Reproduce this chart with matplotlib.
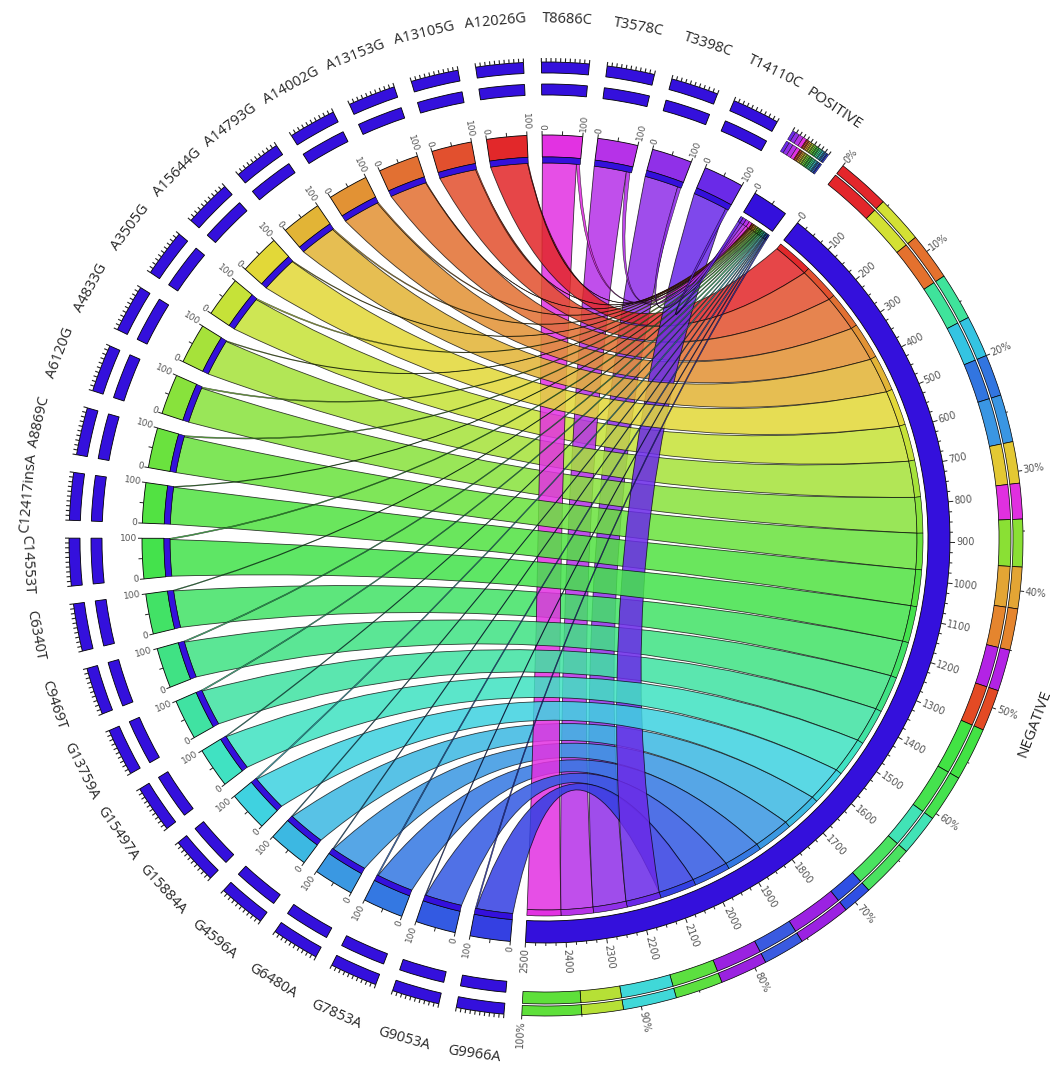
import numpy as np
import matplotlib
matplotlib.use('Agg')
import matplotlib.pyplot as plt
from matplotlib.path import Path
from matplotlib.patches import PathPatch, Wedge
from matplotlib.colors import to_rgba

# ---------------- data ----------------
# mutation segments, clockwise starting right after NEGATIVE
mutations = ['G9966A', 'G9053A', 'G7853A', 'G6480A', 'G4596A', 'G15884A', 'G15497A',
             'G13759A', 'C9469T', 'C6340T', 'C14553T', 'C12417insA', 'A8869C', 'A6120G',
             'A4833G', 'A3505G', 'A15644G', 'A14793G', 'A14002G', 'A13153G', 'A13105G',
             'A12026G', 'T8686C', 'T3578C', 'T3398C', 'T14110C']
mut_colors = ['#3440e2', '#335ae2', '#3478e2', '#3a98e2', '#3cb8e2', '#3fd2e0', '#40e2c2',
              '#40e2a2', '#40e284', '#42e266', '#44e24c', '#52e242', '#6ae23e', '#88e23c',
              '#a6e23a', '#c6e238', '#e2d838', '#e2b436', '#e29234', '#e27032', '#e2502e',
              '#e2282a', '#e232e2', '#b632e8', '#9030e8', '#6a2ae8']
# link size from each mutation to NEGATIVE and to POSITIVE
neg_values = [97, 98, 97, 97, 98, 97, 98, 97, 97, 98, 97, 98, 97, 96, 98, 97, 98, 97,
              97, 98, 97, 98, 90, 86, 90, 92]
pos_values = [3, 2, 3, 2, 2, 3, 2, 3, 3, 2, 3, 2, 3, 3, 2, 3, 2, 3, 3, 2, 3, 2, 8, 10, 9, 7]
mut_size = 100
neg_size = 2500
pos_size = 90
# order in which ribbons are stacked along NEGATIVE (from 0)
neg_order = ['A12026G', 'A13105G', 'A13153G', 'A14002G', 'A14793G', 'A15644G', 'A3505G',
             'A4833G', 'A6120G', 'A8869C', 'C12417insA', 'C14553T', 'C6340T', 'C9469T',
             'G13759A', 'G15497A', 'G15884A', 'G4596A', 'G6480A', 'G7853A', 'G9053A',
             'G9966A', 'T14110C', 'T3398C', 'T3578C', 'T8686C']
# drawing order of ribbons (by genomic position)
draw_order = ['T3398C', 'A3505G', 'T3578C', 'G4596A', 'A4833G', 'A6120G', 'C6340T', 'G6480A',
              'G7853A', 'T8686C', 'A8869C', 'G9053A', 'C9469T', 'G9966A', 'A12026G',
              'C12417insA', 'A13105G', 'A13153G', 'G13759A', 'A14002G', 'T14110C', 'C14553T',
              'A14793G', 'G15497A', 'A15644G', 'G15884A']
# stacked percentage ring of NEGATIVE (colour, share %)
neg_pct_colors = ['#e3262b', '#d3e034', '#e4712e', '#3fe39b', '#34c4e2', '#3275e0', '#3a96e3',
                  '#e3c833', '#e030e0', '#8ae034', '#e3a534', '#e5852e', '#b323e5', '#e34a24',
                  '#42e344', '#45e24e', '#41e3b6', '#4ae260', '#2f4fe3', '#9b22e2', '#3a5ae0',
                  '#9a22e0', '#5ce040', '#40d8d8', '#b6e036', '#5ee03a']
neg_pct_shares = [4.5, 4.0, 4.0, 4.0, 3.5, 3.5, 4.0, 3.5, 3.0, 4.0, 3.5, 3.5, 3.5, 3.5,
                  4.5, 4.0, 3.5, 4.5, 2.5, 4.5, 3.5, 4.0, 4.0, 4.5, 3.5, 5.0]
neg_tick_labels = [str(v) for v in range(0, 2501, 100)]
pct_tick_labels = ['%d%%' % v for v in range(0, 101, 10)]

# ---------------- geometry ----------------
W, H = 1056, 1070
CX, CY = 546, 539
GAP = 2.15
NEG_START = 51.5
MU = 0.38          # pull of the bezier control point toward the chord midpoint
n_mut = len(mutations)
total_units = n_mut * mut_size + neg_size + pos_size
K = (360.0 - (n_mut + 2) * GAP) / total_units

BLUE = '#3410dc'
R_IDEO_OUT, R_IDEO_IN = 404, 382
R_STRIPE_IN = 376
R_CAP_OUT, R_CAP_IN = 377, 371

fig = plt.figure(figsize=(W / 100, H / 100), dpi=100)
ax = fig.add_axes([0, 0, 1, 1])
ax.set_xlim(-CX, W - CX)
ax.set_ylim(-(H - CY), CY)
ax.axis('off')

# segment start angles (clockwise = decreasing math angle)
neg_a0 = NEG_START
neg_a1 = NEG_START - neg_size * K
mut_a0 = {}
a = neg_a1 - GAP
for m in mutations:
    mut_a0[m] = a
    a -= mut_size * K + GAP
pos_a0 = a
pos_a1 = a - pos_size * K
mcol = dict(zip(mutations, mut_colors))
nval = dict(zip(mutations, neg_values))
pval = dict(zip(mutations, pos_values))


def P(r, ang):
    t = np.radians(ang)
    return r * np.cos(t), r * np.sin(t)


def band(r_in, r_out, a_start, a_end, fc, lw=0.6, z=3, ec='black'):
    w = Wedge((0, 0), r_out, min(a_start, a_end), max(a_start, a_end),
              width=r_out - r_in, facecolor=fc, edgecolor=ec, linewidth=lw, zorder=z)
    ax.add_patch(w)


def arc(r, a1, a2):
    n = max(3, int(abs(a2 - a1) * 3) + 3)
    return [P(r, x) for x in np.linspace(a1, a2, n)]


def ctrl(p, q):
    return (MU * (p[0] + q[0]) / 2, MU * (p[1] + q[1]) / 2)


def ribbon(r1, a1, a2, r2, b1, b2, color, z, alpha=0.86, lw=0.6):
    arc1 = arc(r1, a1, a2)
    arc2 = arc(r2, b1, b2)
    verts = (arc1 + [ctrl(arc1[-1], arc2[0]), arc2[0]] + arc2[1:]
             + [ctrl(arc2[-1], arc1[0]), arc1[0], arc1[0]])
    codes = ([Path.MOVETO] + [Path.LINETO] * (len(arc1) - 1) + [Path.CURVE3, Path.CURVE3]
             + [Path.LINETO] * (len(arc2) - 1) + [Path.CURVE3, Path.CURVE3] + [Path.CLOSEPOLY])
    pp = PathPatch(Path(verts, codes), facecolor=to_rgba(color, alpha),
                   edgecolor=(0, 0, 0, 0.75), linewidth=lw, zorder=z)
    ax.add_patch(pp)


def norm(a):
    return (a + 180) % 360 - 180


def radial_text(r, ang, s, size, color='#555555'):
    a = norm(ang)
    if -90 < a <= 90:
        rot, ha = a, 'left'
    else:
        rot, ha = a - 180, 'right'
    x, y = P(r, ang)
    ax.text(x, y, s, rotation=rot, ha=ha, va='center', rotation_mode='anchor',
            fontsize=size, color=color, family='DejaVu Sans')


def tangential_text(r, ang, s, size, color='#262626'):
    a = ang % 360
    rot = a - 90 if 0 < a < 180 else a + 90
    x, y = P(r, ang)
    ax.text(x, y, s, rotation=rot, ha='center', va='center', rotation_mode='anchor',
            fontsize=size, color=color, family='Open Sans')


def tick(r1, r2, ang, lw=0.7, color='#222222'):
    x1, y1 = P(r1, ang)
    x2, y2 = P(r2, ang)
    ax.plot([x1, x2], [y1, y2], color=color, lw=lw, zorder=4, solid_capstyle='butt')


# ---------------- ribbons ----------------
neg_pos = {}
c = 0
for m in neg_order:
    neg_pos[m] = c
    c += nval[m]
pos_order = list(reversed(mutations))
pos_pos = {}
c = 0
for m in pos_order:
    pos_pos[m] = c
    c += pval[m]

for zi, m in enumerate(draw_order):
    a0 = mut_a0[m]
    ribbon(R_STRIPE_IN, a0, a0 - nval[m] * K, R_CAP_IN,
           neg_a0 - neg_pos[m] * K, neg_a0 - (neg_pos[m] + nval[m]) * K, mcol[m], z=1 + zi * 0.01)
for m in mutations:
    a0 = mut_a0[m]
    s = a0 - nval[m] * K
    e = s - pval[m] * K
    ribbon(R_STRIPE_IN, s, e, R_STRIPE_IN, pos_a0 - pos_pos[m] * K,
           pos_a0 - (pos_pos[m] + pval[m]) * K, mcol[m], z=1.5, alpha=0.9, lw=0.4)

# ---------------- mutation segments ----------------
for m in mutations:
    a0 = mut_a0[m]
    a1 = a0 - mut_size * K
    am = (a0 + a1) / 2
    band(R_IDEO_IN, R_IDEO_OUT, a0, a1, mcol[m])
    band(R_STRIPE_IN, R_IDEO_IN, a0, a1, BLUE, lw=0.4)
    for v in (0, 50, 100):
        tick(R_IDEO_OUT, R_IDEO_OUT + 4, a0 - v * K)
    radial_text(R_IDEO_OUT + 5, a0, '0', 6.5)
    radial_text(R_IDEO_OUT + 5, a1, '100', 6.5)
    band(444, 455, a0, a1, BLUE)
    band(466, 477, a0, a1, BLUE)
    for v in range(0, 101, 10):
        tick(477, 481, a0 - v * K, lw=0.8)
    tangential_text(520, am, m, 10.5)

# ---------------- NEGATIVE ----------------
band(R_IDEO_IN, R_IDEO_OUT, neg_a0, neg_a1, BLUE)
for m in neg_order:
    band(R_CAP_IN, R_CAP_OUT, neg_a0 - neg_pos[m] * K, neg_a0 - (neg_pos[m] + nval[m]) * K,
         mcol[m], lw=0.4)
for v in range(0, neg_size + 1, 25):
    big = v % 100 == 0
    tick(R_IDEO_OUT, R_IDEO_OUT + (5 if big else 3), neg_a0 - v * K, lw=0.7)
for lab in neg_tick_labels:
    radial_text(R_IDEO_OUT + 6, neg_a0 - int(lab) * K, lab, 7)

span = neg_size * K
c = 0.0
for col, sh in zip(neg_pct_colors, neg_pct_shares):
    s = neg_a0 - c / 100 * span
    e = neg_a0 - (c + sh) / 100 * span
    band(453, 465, s, e, col, lw=0.5)
    band(467, 477, s, e, col, lw=0.5)
    c += sh
for v in range(0, 101, 5):
    tick(477, 481 if v % 10 == 0 else 479, neg_a0 - v / 100 * span, lw=0.7)
for i, lab in enumerate(pct_tick_labels):
    radial_text(482, neg_a0 - i * 10 / 100 * span, lab, 7)
tangential_text(522, (neg_a0 + neg_a1) / 2, 'NEGATIVE', 11)

# ---------------- POSITIVE ----------------
band(R_IDEO_IN, R_IDEO_OUT, pos_a0, pos_a1, BLUE)
for v in (0, 50):
    tick(R_IDEO_OUT, R_IDEO_OUT + 4, pos_a0 - v * K)
radial_text(R_IDEO_OUT + 5, pos_a0, '0', 6.5)
for m in pos_order:
    band(R_CAP_IN, R_CAP_OUT, pos_a0 - pos_pos[m] * K, pos_a0 - (pos_pos[m] + pval[m]) * K,
         mcol[m], lw=0.3)
pspan = pos_size * K
for m in pos_order:
    s = pos_a0 - pos_pos[m] * K
    e = pos_a0 - (pos_pos[m] + pval[m]) * K
    band(453, 465, s, e, mcol[m], lw=0.3)
    band(467, 477, s, e, mcol[m], lw=0.3)
for v in range(0, 101, 10):
    tick(477, 481, pos_a0 - v / 100 * pspan, lw=0.8)
tangential_text(518, (pos_a0 + pos_a1) / 2, 'POSITIVE', 11)

fig.savefig('out.png', dpi=100, facecolor='white')
